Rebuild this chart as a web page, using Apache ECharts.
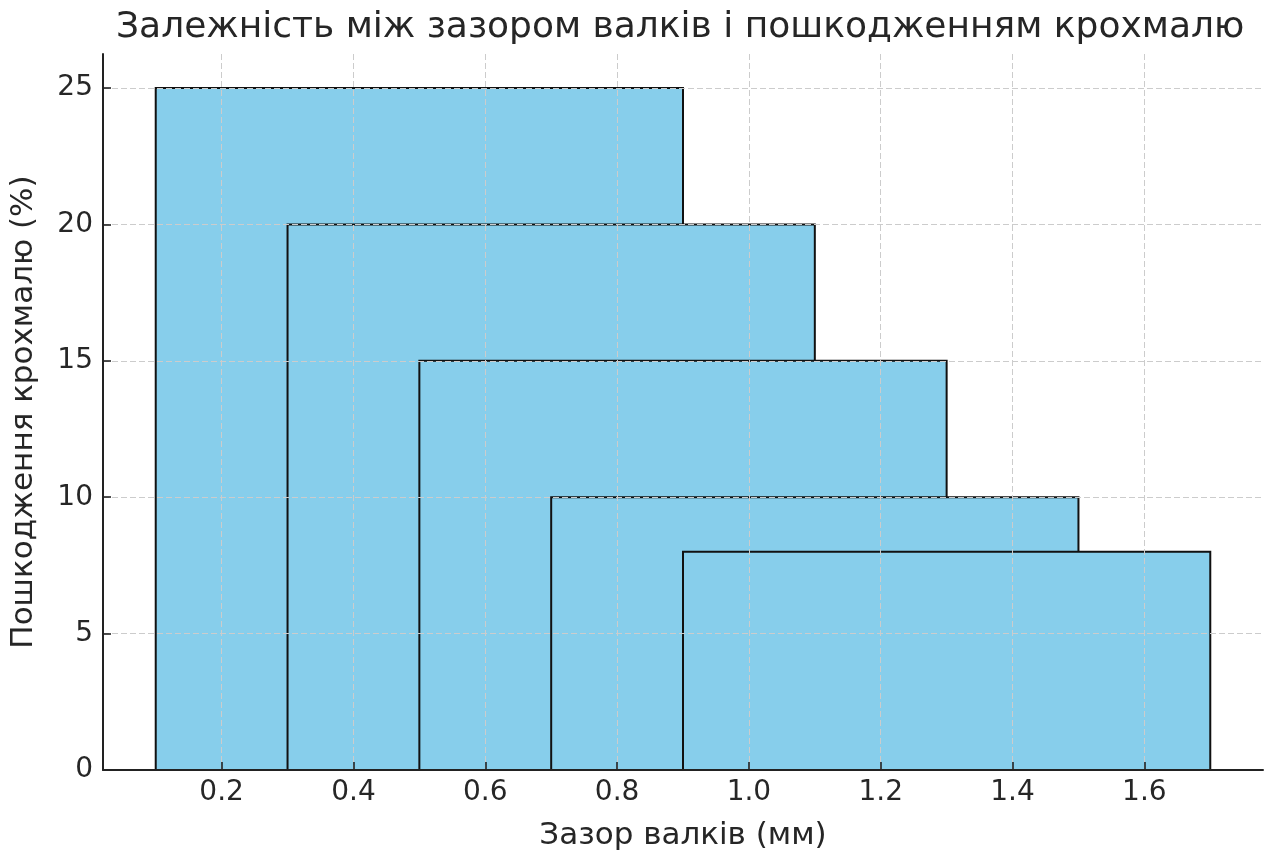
<!DOCTYPE html>
<html>
<head>
<meta charset="utf-8">
<script src="https://cdn.jsdelivr.net/npm/echarts@6/dist/echarts.min.js"></script>
<style>
html, body { margin: 0; padding: 0; background: #fff; }
#main { width: 1270px; height: 856px; }
</style>
</head>
<body>
<div id="main"></div>
<script>
// зазор валків (центри стовпців), мм
var gaps = [0.5, 0.7, 0.9, 1.1, 1.3];
// пошкодження крохмалю, %
var damage = [25, 20, 15, 10, 8];
var barWidth = 0.8;
var xTicks = [0.2, 0.4, 0.6, 0.8, 1.0, 1.2, 1.4, 1.6];
var yTicks = [0, 5, 10, 15, 20, 25];

var myChart = echarts.init(document.getElementById('main'));

var data = [];
for (var i = 0; i < gaps.length; i++) {
    data.push([gaps[i], damage[i]]);
}

var font = 'DejaVu Sans';
var option = {
    animation: false,
    title: {
        text: 'Залежність між зазором валків і пошкодженням крохмалю',
        left: 111,
        top: 5,
        textStyle: { fontFamily: font, fontSize: 36, fontWeight: 'normal', color: '#262626' }
    },
    grid: { left: 103, right: 7, top: 54, bottom: 82 },
    xAxis: {
        type: 'value',
        min: 0.02,
        max: 1.78,
        z: 5,
        name: 'Зазор валків (мм)',
        nameLocation: 'middle',
        nameGap: 50,
        nameTextStyle: { fontFamily: font, fontSize: 31, color: '#262626' },
        axisLine: { show: true, lineStyle: { color: '#222222', width: 2 } },
        axisTick: { show: true, inside: true, length: 8, customValues: xTicks, lineStyle: { color: '#222222', width: 1.6 } },
        axisLabel: {
            customValues: xTicks,
            margin: 9,
            fontFamily: font, fontSize: 28, color: '#262626',
            formatter: function (v) { return v.toFixed(1); }
        },
        splitLine: { show: true, lineStyle: { color: '#cccccc', type: [6, 3], width: 1 } }
    },
    yAxis: {
        type: 'value',
        min: 0,
        max: 26.25,
        z: 5,
        name: 'Пошкодження крохмалю (%)',
        nameLocation: 'middle',
        nameGap: 64,
        nameTextStyle: { fontFamily: font, fontSize: 31, color: '#262626' },
        axisLine: { show: true, lineStyle: { color: '#222222', width: 2 } },
        axisTick: { show: true, inside: true, length: 8, customValues: yTicks, lineStyle: { color: '#222222', width: 1.6 } },
        axisLabel: {
            customValues: yTicks,
            margin: 10,
            fontFamily: font, fontSize: 28, color: '#262626'
        },
        splitLine: { show: true, lineStyle: { color: '#cccccc', type: [6, 3], width: 1 } }
    },
    series: [{
        type: 'custom',
        z: 1,
        data: data,
        renderItem: function (params, api) {
            var c = api.value(0);
            var h = api.value(1);
            var p1 = api.coord([c - barWidth / 2, h]);
            var p2 = api.coord([c + barWidth / 2, 0]);
            return {
                type: 'rect',
                shape: { x: p1[0], y: p1[1], width: p2[0] - p1[0], height: p2[1] - p1[1] },
                style: { fill: '#87CEEB', stroke: '#111111', lineWidth: 2 }
            };
        }
    }]
};
myChart.setOption(option);
</script>
</body>
</html>
